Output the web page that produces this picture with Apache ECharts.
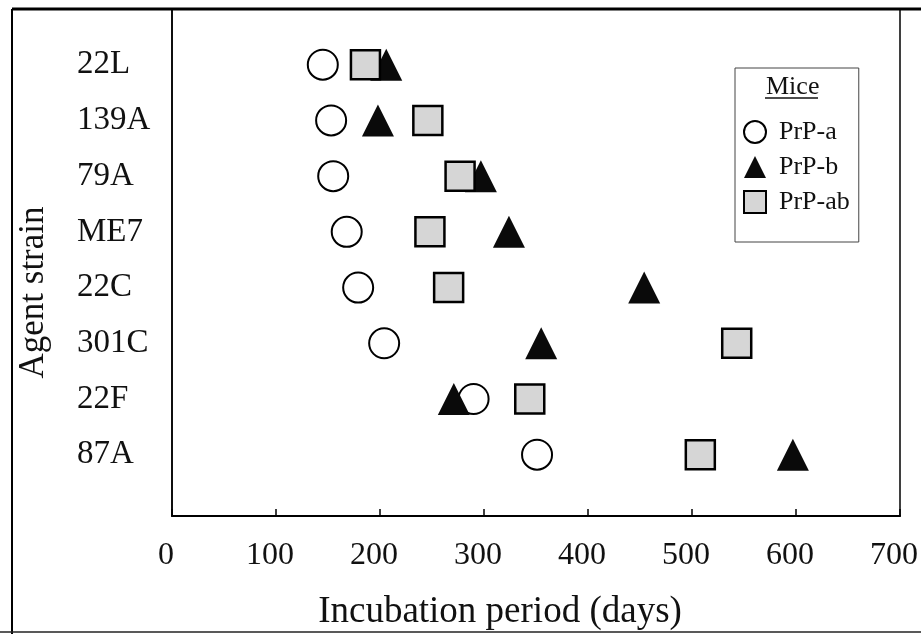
<!DOCTYPE html>
<html lang="en">
<head>
    <meta charset="UTF-8">
    <title>Incubation period by agent strain</title>
    <script src="https://cdnjs.cloudflare.com/ajax/libs/echarts/6.0.0/echarts.min.js"></script>
    <style>
        html, body { margin: 0; padding: 0; background: #fff; }
        #chart { width: 921px; height: 634px; }
    </style>
</head>
<body>
    <div id="chart"></div>
    <script>
        // strains from top to bottom
        const strains = ['22L', '139A', '79A', 'ME7', '22C', '301C', '22F', '87A'];
        // incubation period (days) for each mouse genotype
        const prpA  = [145, 153, 155, 168, 179, 204, 290, 351];
        const prpB  = [206, 198, 297, 324, 454, 355, 271, 597];
        const prpAB = [186, 246, 277, 248, 266, 543, 344, 508];
        const xTicks = [0, 100, 200, 300, 400, 500, 600, 700];

        const serif = 'Liberation Serif, Times New Roman, serif';

        function toPoints(vals) {
            return vals.map((v, i) => [v, i + 1]);
        }

        const chart = echarts.init(document.getElementById('chart'));

        const option = {
            animation: false,
            backgroundColor: '#fff',
            grid: {
                left: 172, right: 21, top: 9, bottom: 118,
                containLabel: false,
                outerBoundsMode: 'none',
                show: true,
                borderColor: '#000',
                borderWidth: 1.5
            },
            xAxis: {
                type: 'value',
                min: xTicks[0],
                max: xTicks[xTicks.length - 1],
                interval: 100,
                name: 'Incubation period (days)',
                nameLocation: 'middle',
                nameGap: 78,
                nameTextStyle: { fontFamily: serif, fontSize: 37, color: '#111', padding: [0, 72, 0, 0] },
                axisLine: { show: true, onZero: false, lineStyle: { color: '#000', width: 2 } },
                axisTick: { show: true, inside: true, length: 7, lineStyle: { color: '#000', width: 1.5 } },
                splitLine: { show: false },
                axisLabel: {
                    fontFamily: serif, fontSize: 32, color: '#111', margin: 24,
                    padding: [0, 12, 0, 0]
                }
            },
            yAxis: {
                type: 'value',
                inverse: true,
                min: 0,
                max: 9.1,
                interval: 1,
                name: 'Agent strain',
                nameLocation: 'middle',
                nameGap: 121,
                nameTextStyle: { fontFamily: serif, fontSize: 35, color: '#111', padding: [0, 60, 0, 0] },
                axisLine: { show: true, onZero: false, lineStyle: { color: '#000', width: 1.5 } },
                axisTick: { show: false },
                splitLine: { show: false },
                axisLabel: {
                    fontFamily: serif, fontSize: 33, color: '#111',
                    align: 'left', margin: 95,
                    padding: [10, 0, 0, 0],
                    formatter: v => (Number.isInteger(v) && strains[v - 1]) ? strains[v - 1] : ''
                }
            },
            legend: {
                orient: 'vertical',
                left: 735,
                top: 68,
                padding: [51, 9, 27, 8],
                itemWidth: 22,
                itemHeight: 22,
                itemGap: 9,
                selectedMode: false,
                borderColor: '#444',
                borderWidth: 1,
                textStyle: { fontFamily: serif, fontSize: 26, color: '#111', padding: [0, 0, 0, 8] },
                data: ['PrP-a', 'PrP-b', 'PrP-ab']
            },
            graphic: [
                // scanned page frame
                { type: 'line', shape: { x1: 12, y1: 9, x2: 921, y2: 9 }, style: { stroke: '#000', lineWidth: 3 } },
                { type: 'line', shape: { x1: 12, y1: 9, x2: 12, y2: 634 }, style: { stroke: '#000', lineWidth: 2 } },
                { type: 'line', shape: { x1: 0, y1: 632, x2: 921, y2: 632 }, style: { stroke: '#222', lineWidth: 1.5 } },
                // legend title
                { type: 'text', left: 766, top: 74, style: { text: 'Mice', font: '26px ' + serif, fill: '#111' } },
                { type: 'line', shape: { x1: 765, y1: 98, x2: 818, y2: 98 }, style: { stroke: '#111', lineWidth: 1.5 } }
            ],
            series: [
                {
                    name: 'PrP-a',
                    type: 'scatter',
                    symbol: 'circle',
                    symbolSize: 30,
                    itemStyle: { color: '#fff', borderColor: '#000', borderWidth: 2, opacity: 1 },
                    data: toPoints(prpA)
                },
                {
                    name: 'PrP-b',
                    type: 'scatter',
                    symbol: 'triangle',
                    symbolSize: 32,
                    itemStyle: { color: '#0a0a0a', borderWidth: 0, opacity: 1 },
                    data: toPoints(prpB)
                },
                {
                    name: 'PrP-ab',
                    type: 'scatter',
                    symbol: 'rect',
                    symbolSize: 29,
                    itemStyle: { color: '#d6d6d6', borderColor: '#000', borderWidth: 2.5, opacity: 1 },
                    data: toPoints(prpAB)
                }
            ]
        };

        chart.setOption(option);
    </script>
</body>
</html>
